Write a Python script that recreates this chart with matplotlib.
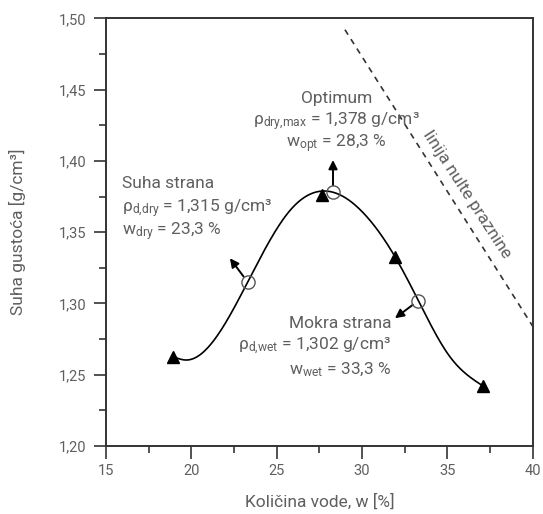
import matplotlib
matplotlib.use('Agg')
import matplotlib.pyplot as plt
import numpy as np

plt.rcParams['font.family'] = ['Roboto', 'DejaVu Sans']
plt.rcParams['mathtext.fontset'] = 'custom'
plt.rcParams['mathtext.rm'] = 'Roboto'
plt.rcParams['mathtext.it'] = 'Roboto:italic'
plt.rcParams['mathtext.default'] = 'regular'

# measured points (triangles) and characteristic points (circles)
w_meas = [18.94, 27.63, 31.93, 37.1]
rho_meas = [1.2626, 1.376, 1.3328, 1.242]
w_char = [23.3, 28.3, 33.3]
rho_char = [1.315, 1.378, 1.302]

# compaction curve knots
w_curve = [18.94, 19.73, 21.48, 23.3, 25.8, 28.3, 30.1, 31.93, 33.3, 35.15, 37.1]
rho_curve = [1.2626, 1.2603, 1.2767, 1.315, 1.3655, 1.378, 1.3632, 1.3328, 1.302,
             1.2626, 1.242]

# zero air voids line
w_zav = [29.0, 34.5, 40.0]
rho_zav = [1.492, 1.388, 1.284]

xticks = [15, 20, 25, 30, 35, 40]
yticks = [1.20, 1.25, 1.30, 1.35, 1.40, 1.45, 1.50]

txt = '#5f5f5f'
dark = '#333333'


def spline(xs, ys, n=400):
    # natural cubic spline through the knots
    x = np.asarray(xs, float)
    y = np.asarray(ys, float)
    k = len(x)
    h = np.diff(x)
    A = np.zeros((k, k))
    b = np.zeros(k)
    A[0, 0] = A[-1, -1] = 1
    for i in range(1, k - 1):
        A[i, i - 1] = h[i - 1]
        A[i, i] = 2 * (h[i - 1] + h[i])
        A[i, i + 1] = h[i]
        b[i] = 3 * ((y[i + 1] - y[i]) / h[i] - (y[i] - y[i - 1]) / h[i - 1])
    c = np.linalg.solve(A, b)
    xx = np.linspace(x[0], x[-1], n)
    j = np.clip(np.searchsorted(x, xx) - 1, 0, k - 2)
    d = xx - x[j]
    bb = (y[j + 1] - y[j]) / h[j] - h[j] * (2 * c[j] + c[j + 1]) / 3
    dd = (c[j + 1] - c[j]) / (3 * h[j])
    return xx, y[j] + bb * d + c[j] * d ** 2 + dd * d ** 3


fig = plt.figure(figsize=(5.43, 5.14), dpi=100)
ax = fig.add_axes([106 / 543, 1 - 446 / 514, (532.7 - 106) / 543, (446 - 18.3) / 514])

cx, cy = spline(w_curve, rho_curve)
ax.plot(cx, cy, color='black', lw=1.2, zorder=3)
ax.plot(w_meas, rho_meas, ls='none', marker='^', ms=8, color='black', zorder=4)
ax.plot(w_char, rho_char, ls='none', marker='o', ms=9.5, mfc='none', mec='#555555', mew=1.0, zorder=5)

ax.plot(w_zav, rho_zav, color=dark, lw=1.2, dashes=(3.5, 3.2))

# arrows from characteristic points
heads = [(22.26, 1.3317), (28.3, 1.4006), (31.93, 1.2896)]
for i in range(3):
    ax.annotate('', xy=heads[i], xytext=(w_char[i], rho_char[i]),
                arrowprops=dict(arrowstyle='-|>', color='black', lw=1.4,
                                mutation_scale=13, shrinkA=5, shrinkB=0))

fs = 12.5
ax.text(28.5, 1.4439, 'Optimum', ha='center', va='center', color=txt, fontsize=fs)
ax.text(28.5, 1.4275, r'$\rho_{dry{,}max}$ = 1,378 g/cm³', ha='center', va='center', color=txt, fontsize=fs)
ax.text(28.5, 1.4123, r'$w_{opt}$ = 28,3 %', ha='center', va='center', color=txt, fontsize=fs)

ax.text(15.92, 1.3843, 'Suha strana', ha='left', va='center', color=txt, fontsize=fs)
ax.text(15.92, 1.3667, r'$\rho_{d{,}dry}$ = 1,315 g/cm³', ha='left', va='center', color=txt, fontsize=fs)
ax.text(15.92, 1.3503, r'$w_{dry}$ = 23,3 %', ha='left', va='center', color=txt, fontsize=fs)

ax.text(31.73, 1.2861, 'Mokra strana', ha='right', va='center', color=txt, fontsize=fs)
ax.text(31.73, 1.2697, r'$\rho_{d{,}wet}$ = 1,302 g/cm³', ha='right', va='center', color=txt, fontsize=fs)
ax.text(31.73, 1.2533, r'$w_{wet}$ = 33,3 %', ha='right', va='center', color=txt, fontsize=fs)

ax.text(36.13, 1.3768, 'linija nulte praznine', rotation=-57, rotation_mode='anchor',
        ha='center', va='center', color=txt, fontsize=fs)

ax.set_xlim(15, 40)
ax.set_ylim(1.20, 1.50)
ax.set_xticks(xticks)
ax.set_yticks(yticks)
ax.set_xticks([17.5, 22.5, 27.5, 32.5, 37.5], minor=True)
ax.set_yticks([1.225, 1.275, 1.325, 1.375, 1.425, 1.475], minor=True)
ax.set_xticklabels([str(v) for v in xticks])
ax.set_yticklabels([('%.2f' % v).replace('.', ',') for v in yticks])

ax.tick_params(which='major', direction='out', length=9, width=1.2, color=dark,
               labelsize=10.5, labelcolor=txt, pad=4)
ax.tick_params(which='minor', direction='out', length=5, width=1.2, color=dark)
ax.tick_params(axis='y', which='major', pad=5)
for s in ax.spines.values():
    s.set_linewidth(1.4)
    s.set_color(dark)

ax.set_xlabel('Količina vode, w [%]', fontsize=12.5, color=txt, labelpad=11)
ax.set_ylabel('Suha gustoća [g/cm³]', fontsize=12.5, color=txt, labelpad=24)

fig.savefig('out.png', dpi=100)
